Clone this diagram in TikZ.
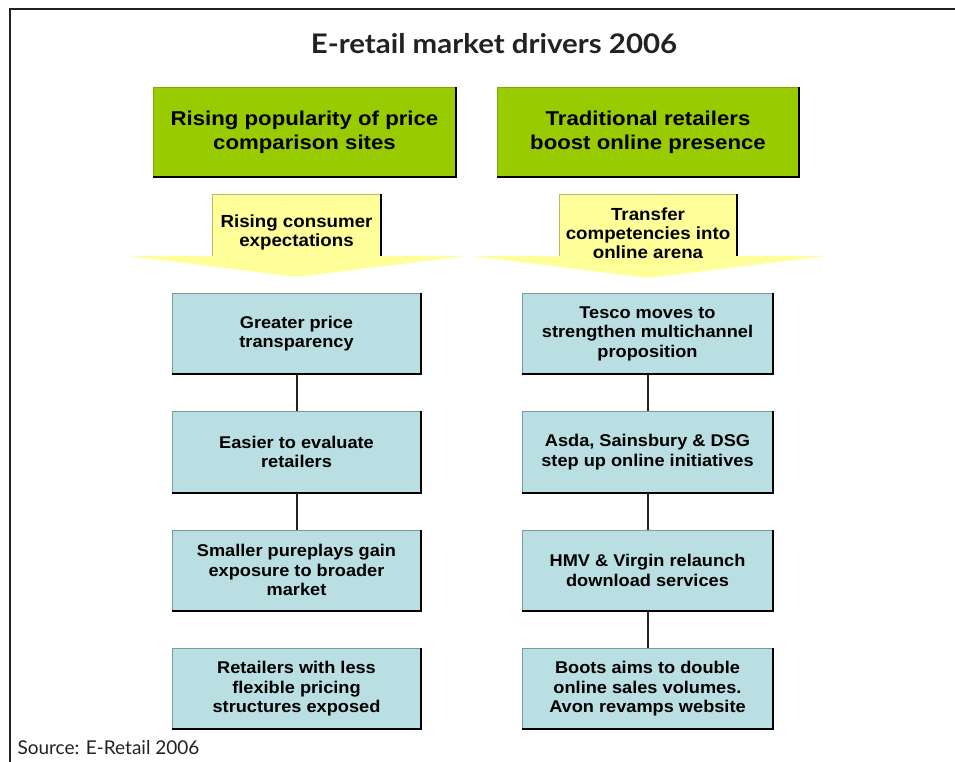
\documentclass[tikz,border=0pt]{standalone}
\usepackage{fontspec}
\setmainfont{Liberation Sans}
\newfontfamily\headfont{Liberation Sans}[FakeStretch=1.11]
\newfontfamily\boxfont{Liberation Sans}[FakeStretch=1.07]
\newfontfamily\titlefont{Lato}[FakeStretch=1.09]
\newfontfamily\notefont{Lato}
\usetikzlibrary{arrows.meta,positioning,backgrounds}
\definecolor{lime}{HTML}{99CC00}
\definecolor{limeedge}{HTML}{7FA800}
\definecolor{pale}{HTML}{FFFF99}
\definecolor{paleedge}{HTML}{B8B870}
\definecolor{aqua}{HTML}{B9DFE3}
\definecolor{aquaedge}{HTML}{7A9A9E}
\definecolor{ink}{HTML}{222222}
\tikzset{
  driver/.style={draw=limeedge,fill=lime,minimum width=303pt,minimum height=90pt,
    align=center,font=\headfont\bfseries\fontsize{20}{24}\selectfont,inner sep=2pt},
  cue/.style={align=center,font=\boxfont\bfseries\fontsize{17.5}{19}\selectfont,inner sep=1pt},
  wing/.style={fill=pale},
  fact/.style={draw=aquaedge,fill=aqua,minimum width=250pt,minimum height=81pt,
    align=center,font=\boxfont\bfseries\fontsize{17}{19.5}\selectfont,inner sep=2pt},
  rim/.style={line width=2pt,black},
  thin/.style={line width=0.6pt,paleedge},
  link/.style={line width=2pt,ink},
  frame/.style={line width=2.4pt,ink}
}
\begin{document}
\begin{tikzpicture}[x=1pt,y=-1pt,node distance=37pt]
  \useasboundingbox (0,0) rectangle (955,762);
  \draw[frame] (10,762) -- (10,9) -- (955,9);
  \node[font=\titlefont\bfseries\fontsize{27}{30}\selectfont,text=ink] (title) at (494,44) {E-retail market drivers 2006};
  \node[driver] (gL) at (304.5,132) {Rising popularity of price\\comparison sites};
  \node[driver,minimum width=302pt] (gR) at (648,132) {Traditional retailers\\boost online presence};
  \node[cue] (cueL) at (296.5,232) {Rising consumer\\expectations};
  \node[cue] (cueR) at (648,233) {Transfer\\competencies into\\online arena};
  \begin{scope}[on background layer]
    \fill[wing] (212,194) -- (381,194) -- (381,256) -- (465,256) -- (296.5,277) -- (128,256) -- (212,256) -- cycle;
    \fill[wing] (559,194) -- (737,194) -- (737,256) -- (825,256) -- (648,278) -- (472,256) -- (559,256) -- cycle;
    \draw[thin] (212,256) -- (212,194) -- (381,194);
    \draw[thin] (559,256) -- (559,194) -- (737,194);
  \end{scope}
  \draw[rim] (381,194) -- (381,256);
  \draw[rim] (737,194) -- (737,256);
  \node[fact,minimum width=249pt] (lA) at (296.5,333.5) {Greater price\\transparency};
  \node[fact,minimum width=249pt,below=of lA] (lB) {Easier to evaluate\\retailers};
  \node[fact,minimum width=249pt,below=of lB] (lC) {Smaller pureplays gain\\exposure to broader\\market};
  \node[fact,minimum width=249pt,below=of lC] (lD) {Retailers with less\\flexible pricing\\structures exposed};
  \node[fact,minimum width=251pt] (rA) at (647.5,333.5) {Tesco moves to\\strengthen multichannel\\proposition};
  \node[fact,minimum width=251pt,below=of rA] (rB) {Asda, Sainsbury \& DSG\\step up online initiatives};
  \node[fact,minimum width=251pt,below=of rB] (rC) {HMV \& Virgin relaunch\\download services};
  \node[fact,minimum width=251pt,below=of rC] (rD) {Boots aims to double\\online sales volumes.\\Avon revamps website};
  \foreach \n in {gL,gR,lA,lB,lC,lD,rA,rB,rC,rD}
    \draw[rim] (\n.north east) -- (\n.south east) -- (\n.south west);
  \draw[link] (lA) -- (lB);
  \draw[link] (lB) -- (lC);
  \draw[link] (rA) -- (rB);
  \draw[link] (rB) -- (rC);
  \draw[link] (rC) -- (rD);
  \node[anchor=west,font=\notefont\fontsize{19}{22}\selectfont,text=ink] (source) at (14,748) {Source: E-Retail 2006};
\end{tikzpicture}
\end{document}
